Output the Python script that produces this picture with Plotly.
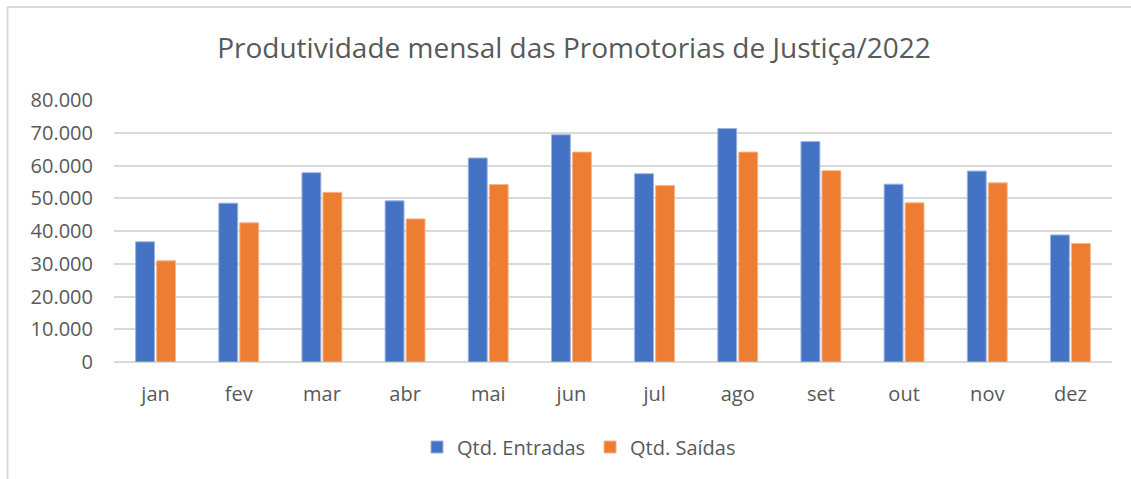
import plotly.graph_objects as go

months = ["jan", "fev", "mar", "abr", "mai", "jun", "jul", "ago", "set", "out", "nov", "dez"]
entradas = [36700, 48500, 57800, 49200, 62300, 69400, 57500, 71300, 67300, 54300, 58300, 38800]
saidas = [30900, 42500, 51800, 43700, 54200, 64100, 53900, 64100, 58400, 48600, 54700, 36200]
y_ticks = [0, 10000, 20000, 30000, 40000, 50000, 60000, 70000, 80000]

BLUE = "#4472C4"
ORANGE = "#ED7D31"
TXT = "#595959"
GRID = "#D9D9D9"
FONT = "Open Sans"

fig = go.Figure()
fig.add_trace(go.Bar(name="Qtd. Entradas", x=months, y=entradas, marker=dict(color=BLUE, line=dict(color="#9DB4E0", width=1))))
fig.add_trace(go.Bar(name="Qtd. Saídas", x=months, y=saidas, marker=dict(color=ORANGE, line=dict(color="#F5B58E", width=1))))

L, R, T, B = 114, 19, 100, 117
W, H = 1131, 479
pw, ph = W - L - R, H - T - B

def px_x(p):
    return (p - L) / pw

def px_y(p):
    return (H - B - p) / ph

fig.update_layout(
    width=W, height=H,
    margin=dict(l=L, r=R, t=T, b=B),
    paper_bgcolor="white", plot_bgcolor="white",
    barmode="group", bargap=0.495, bargroupgap=0.1,
    separators=",.",
    title=dict(text="Produtividade mensal das Promotorias de Justiça/2022",
               x=574 / W, xanchor="center", y=1 - 48 / H, yanchor="middle",
               font=dict(family=FONT, size=28, color=TXT)),
    font=dict(family=FONT, color=TXT, size=20),
    legend=dict(orientation="h", x=px_x(579), xanchor="center", y=px_y(447), yanchor="middle",
                font=dict(family=FONT, size=20, color=TXT), traceorder="normal",
                itemwidth=30),
    xaxis=dict(showgrid=False, showline=False, ticks="", tickfont=dict(size=20, color=TXT),
               ticklabelstandoff=18),
    yaxis=dict(range=[0, 80000], tickvals=y_ticks, tickformat=",d", showgrid=True,
               gridcolor=GRID, gridwidth=1.5, zeroline=True, zerolinecolor=GRID, zerolinewidth=1.5,
               showline=False, ticks="", tickfont=dict(size=20, color=TXT), ticklabelstandoff=20),
    showlegend=True,
    shapes=[
        dict(type="line", xref="paper", yref="paper", x0=px_x(7), x1=px_x(W), y0=px_y(7), y1=px_y(7),
             line=dict(color=GRID, width=2)),
        dict(type="line", xref="paper", yref="paper", x0=px_x(7.5), x1=px_x(7.5), y0=px_y(7), y1=px_y(H),
             line=dict(color=GRID, width=2)),
    ],
)
fig.write_html("out.html", config={"displayModeBar": False},
               post_script="document.body.style.margin='0';")
